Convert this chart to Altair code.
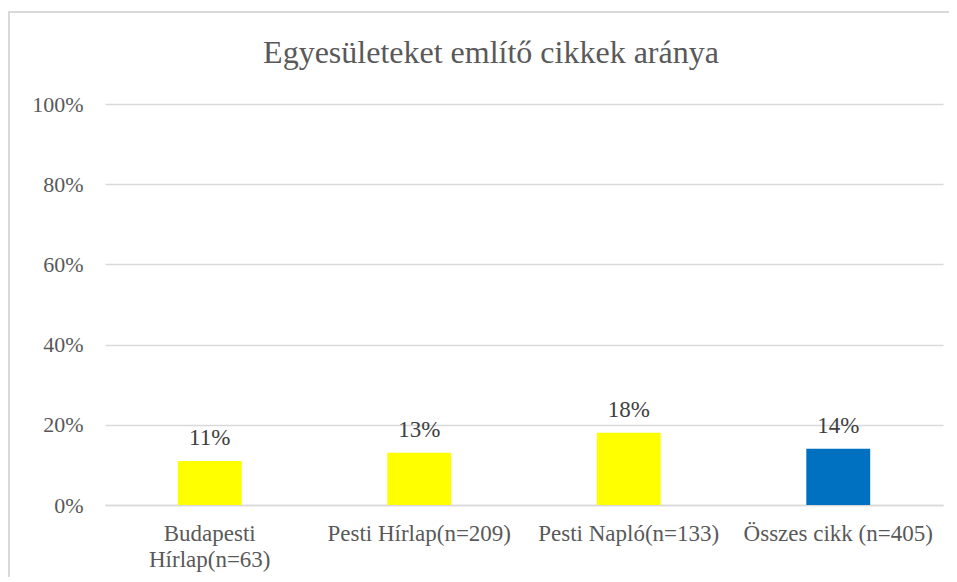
import altair as alt
import pandas as pd

title_text = ["Egyesületeket említő cikkek aránya"]
categories = ["Budapesti Hírlap(n=63)", "Pesti Hírlap(n=209)", "Pesti Napló(n=133)", "Összes cikk (n=405)"]
values = [0.11, 0.13, 0.18, 0.14]
colors = ["#FFFF00", "#FFFF00", "#FFFF00", "#0070C0"]
labels = ["11%", "13%", "18%", "14%"]

df = pd.DataFrame({"cat": categories, "val": values, "color": colors, "label": labels})
tdf = pd.DataFrame({"t": title_text})

W, H = 838, 401
FONT = "Liberation Serif"
GRAY = "#595959"

x = alt.X("cat:N", sort=categories, title=None,
          scale=alt.Scale(paddingInner=0.695, paddingOuter=0.3475),
          axis=alt.Axis(labelAngle=0, labelFont=FONT, labelFontSize=23, labelColor=GRAY,
                        labelPadding=17, ticks=False, domainColor="#d9d9d9", domainWidth=1.5,
                        labelLineHeight=26, labelLimit=400,
                        labelExpr="datum.label == 'Budapesti Hírlap(n=63)' ? ['Budapesti', 'Hírlap(n=63)'] : datum.label"))
y = alt.Y("val:Q", title=None,
          scale=alt.Scale(domain=[0, 1], nice=False),
          axis=alt.Axis(values=[0, 0.2, 0.4, 0.6, 0.8, 1.0], format=".0%", labelFont=FONT, labelFontSize=22,
                        labelColor=GRAY, labelPadding=22, ticks=False, domain=False,
                        gridColor="#d9d9d9", gridWidth=1.5))

bars = alt.Chart(df).mark_bar().encode(x=x, y=y, color=alt.Color("color:N", scale=None))
text = alt.Chart(df).mark_text(dy=-16, font=FONT, fontSize=23, color="#404040", baseline="alphabetic").encode(
    x=alt.X("cat:N", sort=categories), y="val:Q", text="label:N")
border = alt.Chart(df).mark_rect(fill=None, stroke="#d9d9d9", strokeWidth=2, clip=False).encode(
    x=alt.value(-96), x2=alt.value(W + 300), y=alt.value(-92), y2=alt.value(H + 300))
title = alt.Chart(tdf).mark_text(font=FONT, fontSize=32, color=GRAY, baseline="alphabetic", align="center").encode(
    text="t:N", x=alt.value(386), y=alt.value(-41))

chart = alt.layer(border, bars, text, title).properties(
    width=W, height=H,
    background="white",
    autosize=alt.AutoSizeParams(type="none"),
    padding={"left": 97, "top": 96, "right": 6, "bottom": 72},
).configure_view(stroke=None)

chart.save("out.html", embed_options={"renderer": "svg", "actions": False})
